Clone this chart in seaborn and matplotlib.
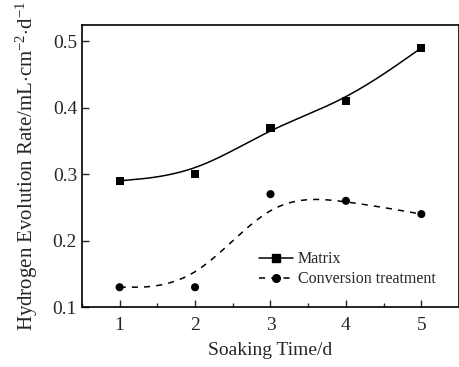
import numpy as np
import pandas as pd
import matplotlib
matplotlib.use("Agg")
import matplotlib.pyplot as plt
from matplotlib.lines import Line2D
from matplotlib.ticker import MultipleLocator
import seaborn as sns

days = [1, 2, 3, 4, 5]
matrix = [0.29, 0.30, 0.37, 0.41, 0.49]
conversion = [0.13, 0.13, 0.27, 0.26, 0.24]
series_names = ["Matrix", "Conversion treatment"]

sns.set_style("ticks")
plt.rcParams['font.family'] = ['Liberation Serif', 'DejaVu Serif']
plt.rcParams['mathtext.fontset'] = 'custom'
plt.rcParams['mathtext.rm'] = 'Liberation Serif'
plt.rcParams['mathtext.it'] = 'Liberation Serif:italic'


def bspline(xs, ys, n=60):
    P = np.column_stack([xs, ys]).astype(float)
    P = np.vstack([P[0], P[0], P, P[-1], P[-1]])
    t = np.linspace(0, 1, n)[:, None]
    b0 = (1 - t) ** 3 / 6
    b1 = (3 * t ** 3 - 6 * t ** 2 + 4) / 6
    b2 = (-3 * t ** 3 + 3 * t ** 2 + 3 * t + 1) / 6
    b3 = t ** 3 / 6
    segs = []
    for i in range(len(P) - 3):
        segs.append(b0 * P[i] + b1 * P[i + 1] + b2 * P[i + 2] + b3 * P[i + 3])
    c = np.vstack(segs)
    return c[:, 0], c[:, 1]


pts = pd.DataFrame({"day": days * 2,
                    "rate": matrix + conversion,
                    "series": [series_names[0]] * 5 + [series_names[1]] * 5})
curves = []
for name, vals in zip(series_names, [matrix, conversion]):
    cx, cy = bspline(days, vals)
    curves.append(pd.DataFrame({"day": cx, "rate": cy, "series": name}))
curves = pd.concat(curves, ignore_index=True)

fig = plt.figure(figsize=(4.6, 3.67), dpi=100)
ax = fig.add_axes([0.178, 0.163, 0.82, 0.77])

sns.lineplot(data=curves[curves.series == series_names[0]], x="day", y="rate",
             color="black", lw=1.1, ax=ax, sort=False, estimator=None)
sns.lineplot(data=curves[curves.series == series_names[1]], x="day", y="rate",
             color="black", lw=1.1, ax=ax, sort=False, estimator=None)
ax.lines[-1].set_dashes([4, 4])
sns.scatterplot(data=pts, x="day", y="rate", style="series",
                markers={series_names[0]: "s", series_names[1]: "o"},
                color="black", s=34, edgecolor="black", linewidth=0, ax=ax, legend=False)

ax.set_xlim(0.5, 5.5)
ax.set_ylim(0.1, 0.525)
ax.set_xticks(days)
ax.set_yticks([0.1, 0.2, 0.3, 0.4, 0.5])
ax.xaxis.set_minor_locator(MultipleLocator(0.5))
ax.tick_params(which="both", direction="in", top=False, right=False, labelsize=14, width=1)
ax.tick_params(which="major", length=5)
ax.tick_params(which="minor", length=3)
ax.tick_params(axis="x", pad=7)
for s in ax.spines.values():
    s.set_visible(True)
    s.set_linewidth(1.2)
    s.set_color("black")

ax.set_xlabel("Soaking Time/d", fontsize=14, labelpad=6)
ax.set_ylabel(r"Hydrogen Evolution Rate/mL$\cdot$cm$^{-2}$$\cdot$d$^{-1}$", fontsize=15, labelpad=9)

handles = [Line2D([], [], color="black", lw=1.1, marker="s", markersize=5.5),
           Line2D([], [], color="black", lw=1.1, marker="o", markersize=5.5, dashes=[4, 4])]
ax.legend(handles, series_names, loc="lower right", bbox_to_anchor=(0.975, 0.02),
          frameon=False, fontsize=11.5, handlelength=2.1, handletextpad=0.3, labelspacing=0.25)

fig.savefig("out.png", dpi=100)
